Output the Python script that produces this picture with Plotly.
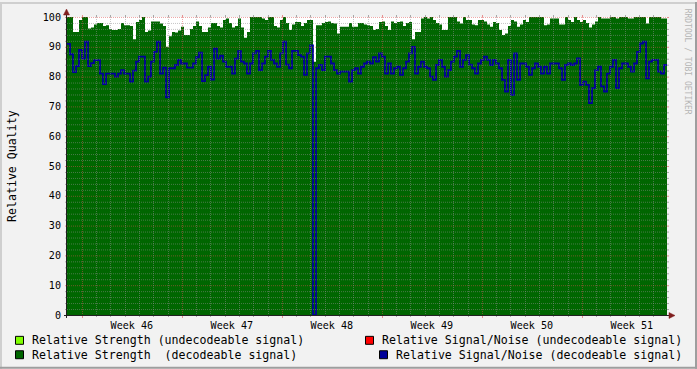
import numpy as np
import plotly.graph_objects as go

# ---------------- data ----------------
week_labels = ["Week 46", "Week 47", "Week 48", "Week 49", "Week 50", "Week 51"]
y_tick_values = [0, 10, 20, 30, 40, 50, 60, 70, 80, 90, 100]

# Relative strength (decodeable signal), one value per sample (~5 h)
strength_decodeable = [
    100, 100, 95, 95, 99, 100, 100, 96.1, 96.5, 97.5,
    98, 98, 97, 97.2, 96, 95.6, 95.6, 96, 98, 97.2,
    97.2, 97, 92.5, 98.3, 99, 100, 95, 95.5, 98.5, 98.5,
    98.5, 97.8, 97, 90, 93.5, 95, 94.8, 95.5, 96.7, 94,
    94, 96, 97, 98.5, 97, 95, 95, 96.5, 98, 98,
    97, 96.5, 99, 99.5, 98, 96.5, 97, 99.5, 96.5, 93,
    95, 100, 100, 100, 100, 99.5, 99, 100, 100, 97,
    96.5, 99, 100, 98, 95.6, 97.5, 98.3, 98.3, 97, 98,
    99, 99, 85, 97.2, 97.2, 98, 98.3, 98.5, 98, 97.8,
    94.5, 96.7, 96.7, 96.7, 98, 96.7, 96.7, 98, 98, 97.5,
    97.2, 97, 95.6, 96, 98.3, 98.5, 97, 95.6, 98.5, 98,
    98.3, 98.5, 97, 98, 98.3, 92.5, 95, 95, 99.5, 100,
    99.5, 100, 99, 98, 97.5, 95.6, 95.6, 100, 100, 100,
    98.5, 97.8, 100, 99, 99, 97.5, 97.2, 99, 99, 98.5,
    97.5, 96.7, 98.3, 98, 95.6, 94, 94.5, 97, 99, 98.5,
    96.7, 97.5, 99, 98.3, 100, 100, 100, 100, 100, 97.2,
    97.5, 99.5, 99.5, 99.5, 97.5, 97.5, 100, 99, 98.3, 100,
    99, 98.3, 99, 98, 96.5, 97.5, 98.5, 100, 99.5, 99.5,
    99.5, 100, 100, 99.5, 100, 100, 100, 99.5, 99.5, 100,
    100, 100, 100, 97.8, 100, 100, 100, 100, 99.5, 99.5,
]

# Relative signal/noise (decodeable signal)
snr_decodeable = [
    91, 87.5, 81.5, 83.5, 89, 86, 91.7, 83.5, 84.5, 85.5,
    85.5, 81, 77.5, 81, 81, 81, 80, 81, 82.2, 81,
    81, 78.3, 82, 85, 86.7, 86.7, 78.3, 80, 85, 88.3,
    91.7, 81, 83, 73, 82.8, 82.8, 83.9, 85.6, 84.4, 84.4,
    83, 83, 84.4, 86.5, 88, 78.5, 80.5, 83.3, 79, 89.4,
    86, 87, 85, 83.3, 83.3, 81, 86, 88.5, 85, 84.4,
    81, 84.4, 87.8, 88.6, 82.2, 84.4, 86.7, 88.6, 85.6, 84.4,
    83.3, 87.8, 91.7, 84, 82.8, 88.6, 88.6, 87.2, 86.7, 80.6,
    87.8, 90.5, 0, 82.8, 83.9, 82.2, 86.7, 86.7, 84.4, 82.2,
    81, 81.7, 81.7, 81.7, 78.3, 82.2, 82.8, 81, 83.3, 84.4,
    85, 84.4, 86.5, 85, 87.8, 86.7, 81, 84.4, 81, 82.8,
    83.3, 80.6, 82.8, 85, 87.8, 90, 81, 83.3, 85, 83.3,
    82.8, 80, 78.9, 83.9, 85.6, 83.3, 80, 82.2, 85, 86.7,
    88.6, 83.3, 85.6, 87.2, 84, 82.8, 81, 84.4, 85.6, 86.7,
    85.6, 83.9, 85.6, 84.4, 82.8, 78.9, 75, 85.6, 73.9, 87.8,
    78.9, 84.4, 84.4, 83.3, 80.6, 82.8, 84.4, 83.3, 81, 83.3,
    81, 84.4, 84.4, 84.4, 82.8, 78.9, 83.9, 84.4, 83.9, 84.4,
    86.1, 77.2, 78.3, 77.2, 71.1, 76.1, 82.2, 83.3, 76.7, 75,
    81, 83.3, 85.6, 76.1, 82.8, 84.4, 84.4, 83.3, 81.7, 84.4,
    88.3, 91.1, 91.7, 79.4, 85, 85.6, 85.6, 81.7, 81, 83.9,
]

legend_labels = [
    "Relative Strength (undecodeable signal)",
    "Relative Signal/Noise (undecodeable signal)",
    "Relative Strength\u00a0 (decodeable signal)",
    "Relative Signal/Noise (decodeable signal)",
]
legend_colors = ["#80FF00", "#FF0000", "#006600", "#000099"]

# ---------------- geometry / style ----------------
W, H = 697, 369
PL, PT, PW, PH = 67, 15, 600, 300
SPAN_DAYS = 42
WEEK_START = 1.04          # first Monday (major grid) in days from the left edge
FONT = "DejaVu Sans Mono"
C_BACK = "#F2F2F2"
C_SHADEA = "#CFCFCF"
C_SHADEB = "#9E9E9E"
C_GRID = "rgba(143,143,143,0.5)"
C_MGRID = "rgba(222,79,79,0.5)"
C_GRID_TICK = "rgba(143,143,143,0.75)"
C_MGRID_TICK = "rgba(222,79,79,0.6)"
C_ARROW = "#801F1F"
C_AXIS = "#1F1F1F"


def px(xp):
    return (xp - PL) / PW


def py(yp):
    return (PT + PH - yp) / PH


n = len(snr_decodeable)
x = np.arange(n + 1) * SPAN_DAYS / n
strength_y = strength_decodeable + [strength_decodeable[-1]]
snr_y = snr_decodeable + [snr_decodeable[-1]]

fig = go.Figure()
fig.add_trace(go.Scatter(
    x=x, y=strength_y, mode="lines", line=dict(shape="hv", width=0, color="#006600"),
    fill="tozeroy", fillcolor="#006600", hoverinfo="skip", showlegend=False))
fig.add_trace(go.Scatter(
    x=x, y=snr_y, mode="lines", line=dict(shape="hv", width=1.8, color="#000099"),
    hoverinfo="skip", showlegend=False))

shapes = []

# border shading
shapes += [
    dict(type="rect", xref="paper", yref="paper", x0=px(0), x1=px(W), y0=py(0), y1=py(2),
         fillcolor=C_SHADEA, line_width=0, layer="below"),
    dict(type="rect", xref="paper", yref="paper", x0=px(0), x1=px(2), y0=py(0), y1=py(H),
         fillcolor=C_SHADEA, line_width=0, layer="below"),
    dict(type="rect", xref="paper", yref="paper", x0=px(0), x1=px(W), y0=py(H - 2), y1=py(H),
         fillcolor=C_SHADEB, line_width=0, layer="below"),
    dict(type="rect", xref="paper", yref="paper", x0=px(W - 2), x1=px(W), y0=py(0), y1=py(H),
         fillcolor=C_SHADEB, line_width=0, layer="below"),
]

# horizontal grid (every 2 units, major every 10)
for v in range(0, 101, 2):
    major = v % 10 == 0
    col = C_MGRID if major else C_GRID
    tcol = C_MGRID_TICK if major else C_GRID_TICK
    yp = PT + (100 - v) * PH / 100 + 0.5
    if v != 0:
        shapes.append(dict(type="line", xref="paper", yref="paper", x0=px(PL), x1=px(PL + PW),
                           y0=py(yp), y1=py(yp), line=dict(color=col, width=1, dash="1px,1px"),
                           layer="above"))
    shapes.append(dict(type="line", xref="paper", yref="paper", x0=px(PL - 2), x1=px(PL),
                       y0=py(yp), y1=py(yp), line=dict(color=tcol, width=1), layer="above"))
    shapes.append(dict(type="line", xref="paper", yref="paper", x0=px(PL + PW), x1=px(PL + PW + 2),
                       y0=py(yp), y1=py(yp), line=dict(color=tcol, width=1), layer="above"))

# vertical grid (every day, major every week)
d = WEEK_START - 7 * int(WEEK_START // 7)
while d < SPAN_DAYS:
    major = abs(((d - WEEK_START) / 7) - round((d - WEEK_START) / 7)) < 1e-6
    col = C_MGRID if major else C_GRID
    tcol = C_MGRID_TICK if major else C_GRID_TICK
    xp = round(PL + d * PW / SPAN_DAYS) + 0.5
    if d > 0:
        shapes.append(dict(type="line", xref="paper", yref="paper", x0=px(xp), x1=px(xp),
                           y0=py(PT), y1=py(PT + PH), line=dict(color=col, width=1, dash="1px,1px"),
                           layer="above"))
        shapes.append(dict(type="line", xref="paper", yref="paper", x0=px(xp), x1=px(xp),
                           y0=py(PT + PH), y1=py(PT + PH + 3 if major else PT + PH + 2),
                           line=dict(color=tcol, width=1), layer="above"))
        shapes.append(dict(type="line", xref="paper", yref="paper", x0=px(xp), x1=px(xp),
                           y0=py(PT - 2), y1=py(PT), line=dict(color=tcol, width=1), layer="above"))
    d += 1

# axes with arrows
shapes += [
    dict(type="line", xref="paper", yref="paper", x0=px(PL - 3), x1=px(PL + PW + 4),
         y0=py(PT + PH + 0.5), y1=py(PT + PH + 0.5), line=dict(color=C_AXIS, width=1), layer="above"),
    dict(type="line", xref="paper", yref="paper", x0=px(PL - 0.5), x1=px(PL - 0.5),
         y0=py(PT + PH + 3), y1=py(PT - 4), line=dict(color=C_AXIS, width=1), layer="above"),
    dict(type="path", xref="paper", yref="paper",
         path=f"M {px(PL - 3.5)} {py(PT - 2)} L {px(PL + 2.5)} {py(PT - 2)} L {px(PL - 0.5)} {py(PT - 8)} Z",
         fillcolor=C_ARROW, line=dict(color=C_ARROW, width=0.5), layer="above"),
    dict(type="path", xref="paper", yref="paper",
         path=f"M {px(PL + PW + 2)} {py(PT + PH - 2.5)} L {px(PL + PW + 2)} {py(PT + PH + 3.5)} L {px(PL + PW + 8)} {py(PT + PH + 0.5)} Z",
         fillcolor=C_ARROW, line=dict(color=C_ARROW, width=0.5), layer="above"),
]

# legend
annotations = []
legend_pos = [
    (15, 340.5, 30),
    (365, 340.5, 380),
    (15, 355, 30),
    (379, 355, 394),
]
for (bx, cy, tx), label, col in zip(legend_pos, legend_labels, legend_colors):
    shapes.append(dict(type="rect", xref="paper", yref="paper", x0=px(bx + 0.5), x1=px(bx + 8.5),
                       y0=py(cy - 4), y1=py(cy + 4), fillcolor=col, line=dict(color="black", width=1)))
    annotations.append(dict(xref="paper", yref="paper", x=px(tx), y=py(cy), xanchor="left",
                            yanchor="middle", text=label, showarrow=False,
                            font=dict(family=FONT, size=11.6, color="black")))

annotations.append(dict(xref="paper", yref="paper", x=px(12), y=py(165), text="Relative Quality",
                        textangle=-90, showarrow=False, xanchor="center", yanchor="middle",
                        font=dict(family=FONT, size=11.6, color="black")))
annotations.append(dict(xref="paper", yref="paper", x=px(687), y=py(60), text="RRDTOOL / TOBI OETIKER",
                        textangle=90, showarrow=False, xanchor="center", yanchor="middle",
                        font=dict(family=FONT, size=8, color="#B5B5B5")))

week_centers = [WEEK_START + 3.5 + 7 * i for i in range(len(week_labels))]

fig.update_layout(
    width=W, height=H,
    margin=dict(l=PL, r=W - PL - PW, t=PT, b=H - PT - PH, pad=0),
    paper_bgcolor=C_BACK, plot_bgcolor="white",
    showlegend=False,
    shapes=shapes, annotations=annotations,
    xaxis=dict(range=[0, SPAN_DAYS], tickvals=week_centers, ticktext=week_labels,
               ticks="", showgrid=False, zeroline=False, showline=False,
               tickfont=dict(family=FONT, size=10.1, color="black"), ticklabelstandoff=3),
    yaxis=dict(range=[0, 100], tickvals=y_tick_values, ticks="", showgrid=False,
               zeroline=False, showline=False,
               tickfont=dict(family=FONT, size=10.1, color="black"), ticklabelstandoff=5),
)

fig.write_html("out.html", config={"displayModeBar": False},
               post_script="document.body.style.margin='0px';")
